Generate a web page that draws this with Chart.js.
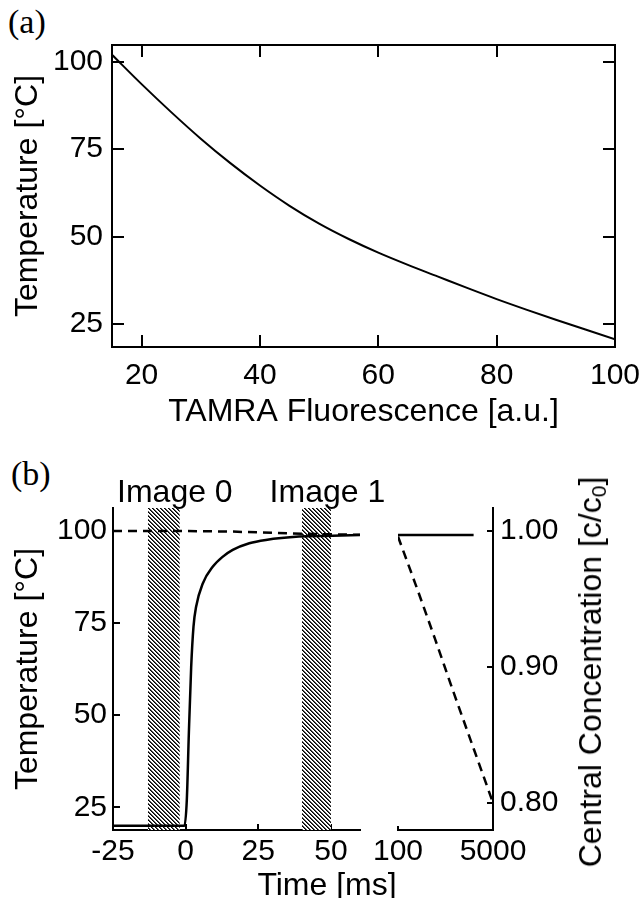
<!DOCTYPE html>
<html>
<head>
<meta charset="utf-8">
<title>TAMRA calibration and heating run</title>
<script src="https://cdn.jsdelivr.net/npm/chart.js@4.4.1/dist/chart.umd.min.js"></script>
<style>
  body { margin: 0; background: #fff; }
  #page { position: relative; width: 643px; height: 898px; overflow: hidden; background: #fff;
          font-family: "Liberation Sans", Arial, sans-serif; color: #000; }
  canvas { position: absolute; }
  .tag { position: absolute; font-family: "Liberation Serif", "Times New Roman", serif; font-size: 34px; line-height: 34px; }
  .title { position: absolute; font-size: 32px; line-height: 32px; white-space: nowrap; }
  .title sub { font-size: 21px; line-height: 0; vertical-align: -5px; }
</style>
</head>
<body>
<div id="page">
  <div class="tag" style="left:8px; top:5px;">(a)</div>
  <div class="tag" style="left:11px; top:457px;">(b)</div>
  <canvas id="chartA" width="643" height="460" style="left:0; top:0;"></canvas>
  <canvas id="chartB1" width="400" height="458" style="left:0; top:440px;"></canvas>
  <canvas id="chartB2" width="313" height="458" style="left:330px; top:440px;"></canvas>
  <div class="title" style="left:327px; top:868px; transform:translateX(-50%);">Time [ms]</div>
  <div class="title" style="left:590px; top:672px; transform:translate(-50%,-50%) rotate(-90deg);">Central Concentration [c/c<sub>0</sub>]</div>
</div>
<script>
// (a) calibration: temperature vs TAMRA fluorescence
const fluorescence = [15, 20, 25, 30, 35, 40, 45, 50, 55, 60, 65, 70, 75, 80, 85, 90, 95, 100];
const calibTemp = [102.0, 93.6, 85.6, 78.0, 71.0, 64.6, 58.8, 53.7, 49.3, 45.4, 41.9, 38.6, 35.3, 32.1, 29.1, 26.2, 23.4, 20.6];
const fluorTicks = [20, 40, 60, 80, 100];
const tempTicks = [25, 50, 75, 100];

// (b) heating run, short time window [ms]
const timeMs = [-25, -10, -1, -0.4, 0.4, 1.1, 1.9, 2.7, 3.6, 5.9, 9.3, 12.7, 16.2, 21.9, 27.6, 39, 50.5, 60];
const tempRun = [20, 20, 20, 20, 27, 45, 63, 74, 79.4, 85.7, 90.2, 92.9, 94.8, 96.6, 97.5, 98.4, 98.6, 98.8];
const concTime = [-25, 0, 15, 30, 45, 60];
const concRun = [1.0, 1.0, 0.9997, 0.9987, 0.9978, 0.9973];
const timeTicks = [-25, 0, 25, 50];

// (b) long time window [ms]
const longTime = [100, 4000];
const longTemp = [98.8, 98.8];
const concTimeLong = [100, 1000, 2000, 3000, 4000, 5000];
const concLong = [0.996, 0.961, 0.921, 0.880, 0.840, 0.800];
const longTicks = [100, 5000];
const concTicks = [0.80, 0.90, 1.00];

// camera exposure windows
const imageNames = ["Image 0", "Image 1"];
const imageStart = [-13, 40];
const imageEnd = [-2, 50];

// axis ranges
const A_X = [15, 100], A_Y = [18.4, 104.8];
const B_T = [18.85, 106.15], B_C = [0.78, 1.017];

const FONT = '"Liberation Sans", Arial, sans-serif';
Chart.defaults.color = "#000";
Chart.defaults.font.family = FONT;

const pts = (xs, ys) => xs.map((x, i) => ({ x: x, y: ys[i] }));
const fixTicks = values => scale => { scale.ticks = values.map(v => ({ value: v })); };
const plain = v => String(v);

// tick marks only, pointing into the plot area (negative length)
const inTicks = len => ({ display: true, drawOnChartArea: false, drawTicks: true, tickLength: -len, color: "#000000", lineWidth: 2 });

// labels above the exposure windows
const windowLabels = {
  id: "windowLabels",
  afterDraw(chart) {
    const ctx = chart.ctx, x = chart.scales.x;
    ctx.save();
    ctx.font = "32px " + FONT;
    ctx.fillStyle = "#000";
    ctx.textAlign = "center";
    ctx.textBaseline = "alphabetic";
    imageNames.forEach((name, i) => {
      const mid = x.getPixelForValue((imageStart[i] + imageEnd[i]) / 2);
      ctx.fillText(name, mid + 11, chart.chartArea.top - 6);
    });
    ctx.restore();
  }
};

function makeHatch() {
  const c = document.createElement("canvas");
  c.width = 4; c.height = 4;
  const g = c.getContext("2d");
  const img = g.createImageData(4, 4);
  const shade = [0, 80, 255, 255];
  for (let y = 0; y < 4; y++) {
    for (let x = 0; x < 4; x++) {
      const v = shade[(x - y + 4) % 4];
      const k = (y * 4 + x) * 4;
      img.data[k] = v; img.data[k + 1] = v; img.data[k + 2] = v; img.data[k + 3] = 255;
    }
  }
  g.putImageData(img, 0, 0);
  return g.createPattern(c, "repeat");
}

const axisBorder = () => ({ display: true, width: 2, color: "#000" });
const tickFont = { family: FONT, size: 30 };
const titleFont = { family: FONT, size: 32 };
const base = { responsive: false, animation: false, devicePixelRatio: 1 };
const quiet = () => ({ legend: { display: false }, tooltip: { enabled: false } });
// keep the x label overhang from shrinking the plot area
const fitX = h => s => { s.height = h; s.paddingLeft = 0; s.paddingRight = 0; };

// ---------- panel (a) ----------
new Chart(document.getElementById("chartA"), {
  type: "line",
  data: {
    datasets: [{
      data: pts(fluorescence, calibTemp),
      borderColor: "#000", borderWidth: 2, pointRadius: 0,
      cubicInterpolationMode: "monotone", fill: false
    }]
  },
  options: {
    ...base,
    layout: { padding: { top: 45, right: 28, left: 0, bottom: 0 } },
    plugins: quiet(),
    scales: {
      x: {
        type: "linear", position: "bottom", min: A_X[0], max: A_X[1],
        afterBuildTicks: fixTicks(fluorTicks), afterFit: fitX(113),
        grid: inTicks(12), border: axisBorder(),
        ticks: { font: tickFont, padding: 23, maxRotation: 0, callback: plain },
        title: { display: true, text: "TAMRA Fluorescence [a.u.]", font: titleFont, padding: { top: 0, bottom: 29 } }
      },
      x2: {
        type: "linear", position: "top", display: true, min: A_X[0], max: A_X[1],
        afterBuildTicks: fixTicks(fluorTicks), afterFit: fitX(0),
        grid: inTicks(12), border: axisBorder(), ticks: { display: false }
      },
      y: {
        type: "linear", position: "left", min: A_Y[0], max: A_Y[1],
        afterBuildTicks: fixTicks(tempTicks), afterFit: s => { s.width = 112; },
        grid: inTicks(12), border: axisBorder(),
        ticks: { font: tickFont, padding: 21, callback: plain },
        title: { display: true, text: "Temperature [°C]", font: titleFont, padding: { top: 9, bottom: 0 } }
      },
      y2: {
        type: "linear", position: "right", display: true, min: A_Y[0], max: A_Y[1],
        afterBuildTicks: fixTicks(tempTicks), afterFit: s => { s.width = 0; },
        grid: inTicks(12), border: axisBorder(), ticks: { display: false }
      }
    }
  }
});

// ---------- panel (b), short window ----------
const hatch = makeHatch();
const topT = B_T[1];

new Chart(document.getElementById("chartB1"), {
  type: "line",
  data: {
    datasets: [
      {
        data: pts(timeMs, tempRun), yAxisID: "y", order: 0,
        borderColor: "#000", borderWidth: 2.5, pointRadius: 0,
        cubicInterpolationMode: "monotone", fill: false
      },
      {
        data: pts(concTime, concRun), yAxisID: "yc", order: 0,
        borderColor: "#000", borderWidth: 2.5, borderDash: [9, 6], pointRadius: 0, fill: false
      },
      ...imageStart.map((s, i) => ({
        data: [{ x: s, y: topT }, { x: imageEnd[i], y: topT }], yAxisID: "y", order: 1,
        borderColor: "rgba(0,0,0,0)", borderWidth: 0, pointRadius: 0,
        fill: "start", backgroundColor: hatch
      }))
    ]
  },
  options: {
    ...base,
    layout: { padding: { top: 68, right: 40, left: 0, bottom: 0 } },
    plugins: quiet(),
    scales: {
      x: {
        type: "linear", position: "bottom", min: -25, max: 60,
        afterBuildTicks: fixTicks(timeTicks), afterFit: fitX(68),
        grid: inTicks(6), border: axisBorder(),
        ticks: { font: tickFont, padding: 10, maxRotation: 0, callback: plain }
      },
      y: {
        type: "linear", position: "left", min: B_T[0], max: B_T[1],
        afterBuildTicks: fixTicks(tempTicks), afterFit: s => { s.width = 113; },
        grid: inTicks(7), border: axisBorder(),
        ticks: { font: tickFont, padding: 13, callback: plain },
        title: { display: true, text: "Temperature [°C]", font: titleFont, padding: { top: 9, bottom: 0 } }
      },
      yc: { type: "linear", position: "right", display: false, min: B_C[0], max: B_C[1] }
    }
  },
  plugins: [windowLabels]
});

// ---------- panel (b), long window ----------
new Chart(document.getElementById("chartB2"), {
  type: "line",
  data: {
    datasets: [
      {
        data: pts(longTime, longTemp), yAxisID: "y",
        borderColor: "#000", borderWidth: 2.5, pointRadius: 0, fill: false
      },
      {
        data: pts(concTimeLong, concLong), yAxisID: "y2",
        borderColor: "#000", borderWidth: 2.5, borderDash: [9, 6], pointRadius: 0,
        cubicInterpolationMode: "monotone", fill: false
      }
    ]
  },
  options: {
    ...base,
    layout: { padding: { top: 68, right: 0, left: 68, bottom: 0 } },
    plugins: quiet(),
    scales: {
      x: {
        type: "linear", position: "bottom", min: 100, max: 5000,
        afterBuildTicks: fixTicks(longTicks), afterFit: fitX(68),
        grid: inTicks(4), border: axisBorder(),
        ticks: { font: tickFont, padding: 8, maxRotation: 0, callback: plain }
      },
      y: { type: "linear", position: "left", display: false, min: B_T[0], max: B_T[1] },
      y2: {
        type: "linear", position: "right", min: B_C[0], max: B_C[1],
        afterBuildTicks: fixTicks(concTicks), afterFit: s => { s.width = 150; },
        grid: inTicks(6), border: axisBorder(),
        ticks: { font: tickFont, padding: 13, callback: v => v.toFixed(2) }
      }
    }
  }
});
</script>
</body>
</html>
